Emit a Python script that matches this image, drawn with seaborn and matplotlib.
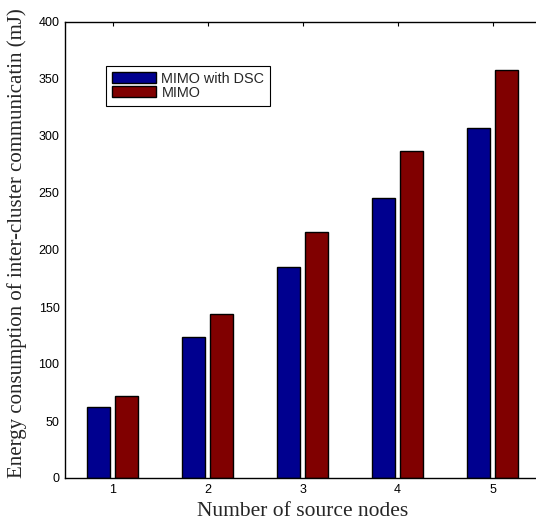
import pandas as pd
import seaborn as sns
import matplotlib.pyplot as plt

# valeurs (mJ)
nodes = ['1', '2', '3', '4', '5']
mimo_dsc = [62.5, 124, 185, 246, 307]
mimo = [72, 144, 216, 287, 358]
series = ['MIMO with DSC', 'MIMO']
couleurs = ['#00008F', '#800000']

df = pd.DataFrame({
    'nodes': nodes * 2,
    'energy': mimo_dsc + mimo,
    'scheme': [series[0]] * len(nodes) + [series[1]] * len(nodes),
})

sns.set_style('white')
plt.rcParams['font.family'] = ['Liberation Sans', 'DejaVu Sans']

fig = plt.figure(figsize=(5.36, 5.25), dpi=100)
# axe droit coupé par le bord de l'image, comme sur l'original
ax = fig.add_axes([65 / 536, 47 / 525, 475 / 536, 456 / 525])

sns.barplot(data=df, x='nodes', y='energy', hue='scheme', palette=couleurs,
            width=0.6, gap=0.2, edgecolor='black', linewidth=1, saturation=1,
            errorbar=None, ax=ax)

ax.set_xlim(-0.5, 4.5)
ax.set_ylim(0, 400)
ax.set_yticks(range(0, 401, 50))
ax.tick_params(direction='in', top=True, right=True, length=3, width=0.8,
               labelsize=9, colors='black', pad=4)
for s in ax.spines.values():
    s.set_color('black')
    s.set_linewidth(1)

serif = ['Liberation Serif', 'DejaVu Serif']
ax.set_xlabel('Number of source nodes', fontsize=15.5, family=serif, labelpad=5)
ax.set_ylabel('Energy consumption of inter-cluster communicatin (mJ)',
              fontsize=15, family=serif)
ax.yaxis.set_label_coords(-0.08, 0.516)

leg = ax.legend(loc='upper left', bbox_to_anchor=(0.086, 0.904), fontsize=10.4,
                frameon=True, fancybox=False, shadow=False, framealpha=1,
                handlelength=3.1, handleheight=0.8, borderpad=0.4,
                labelspacing=0.02, handletextpad=0.35, borderaxespad=0)
leg.get_frame().set_edgecolor('black')
leg.get_frame().set_linewidth(0.8)

plt.savefig('out.png', dpi=100)
